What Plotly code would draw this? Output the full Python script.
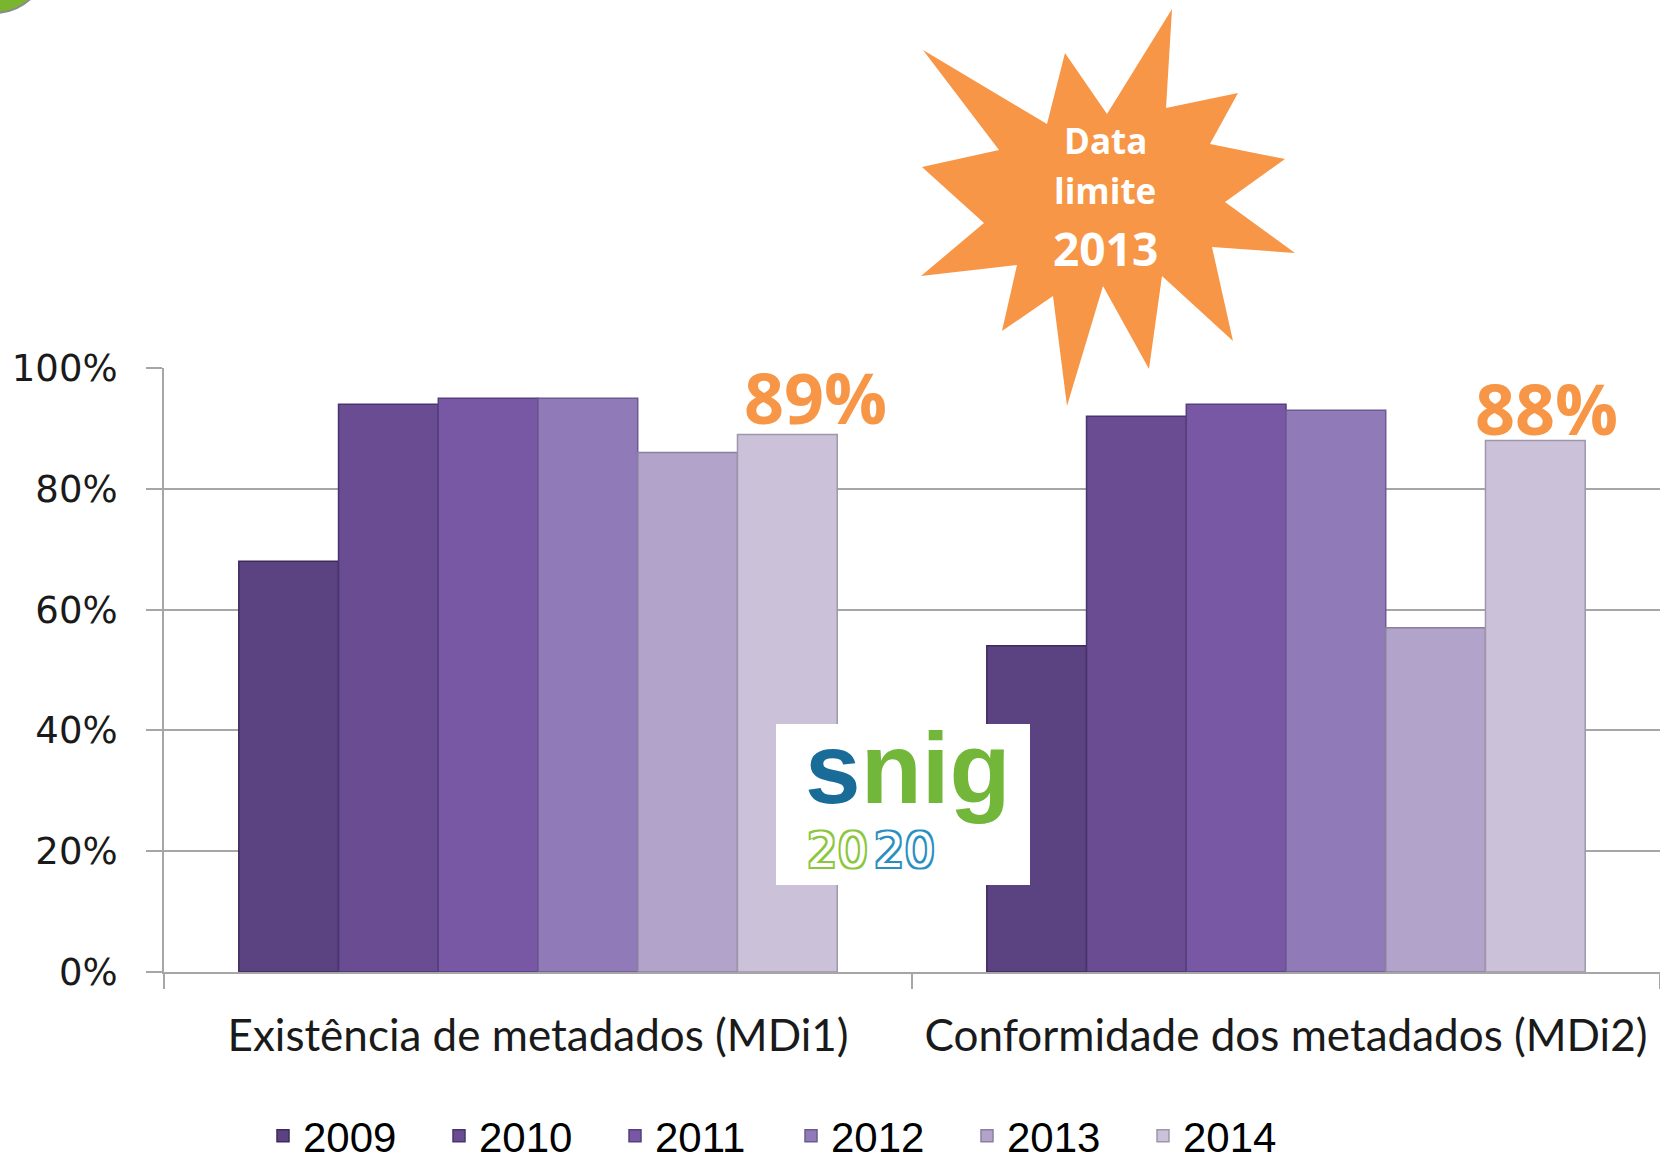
import plotly.graph_objects as go

categories = ["Existência de metadados (MDi1)", "Conformidade dos metadados (MDi2)"]
years = ["2009", "2010", "2011", "2012", "2013", "2014"]
values_2009 = [0.68, 0.54]
values_2010 = [0.94, 0.92]
values_2011 = [0.95, 0.94]
values_2012 = [0.95, 0.93]
values_2013 = [0.86, 0.57]
values_2014 = [0.89, 0.88]
series = [values_2009, values_2010, values_2011, values_2012, values_2013, values_2014]
colors = ["#5b4280", "#694c92", "#7857a4", "#917ab8", "#b1a3c9", "#cbc2da"]
edge_colors = ["#3f2a5c", "#4a3470", "#57407e", "#6d5a8f", "#8a7fa0", "#9e96aa"]
highlight_labels = ["89%", "88%"]

W, H = 1660, 1164
L, R, T, B = 164, 0, 368, 192
PW, PH = W - L - R, H - T - B


def px(x):
    return (x - L) / PW


def py(y):
    return (H - B - y) / PH


fig = go.Figure()
for yr, vals, c, ec in zip(years, series, colors, edge_colors):
    fig.add_trace(go.Bar(
        name=yr, x=categories, y=vals,
        marker=dict(color=c, line=dict(color=ec, width=1.5)),
    ))

orange = "#F79646"

# starburst decoration
star_pts = [(1172, 9), (1166, 108), (1238, 93), (1210, 144), (1285, 159), (1225, 202),
            (1295, 253), (1212, 247), (1233, 341), (1162, 276), (1149, 369), (1103, 286),
            (1067, 406), (1053, 296), (1002, 331), (1017, 265), (921, 276), (984, 223),
            (922, 167), (999, 150), (923, 50), (1047, 124), (1065, 53), (1107, 114)]
path = "M " + " L ".join(f"{px(x):.5f},{py(y):.5f}" for x, y in star_pts) + " Z"

shapes = [
    dict(type="path", xref="paper", yref="paper", path=path,
         fillcolor=orange, line=dict(width=0), layer="above"),
    # logo box
    dict(type="rect", xref="paper", yref="paper", x0=px(776), x1=px(1030), y0=py(885), y1=py(724),
         fillcolor="white", line=dict(width=0), layer="above"),
    # green circle top-left corner
    dict(type="circle", xref="paper", yref="paper", x0=px(-60), x1=px(48), y0=py(13), y1=py(-95),
         fillcolor="#7ab530", line=dict(color="#8a8a8a", width=2), layer="above"),
]


def ann(x, y, text, font):
    return dict(x=px(x), y=py(y), text=text, showarrow=False, xref="paper", yref="paper",
                xanchor="center", yanchor="middle", font=font)


annotations = [
    ann(1105, 140, "Data", dict(family="Open Sans", size=35, color="white", weight=700)),
    ann(1105, 191, "limite", dict(family="Open Sans", size=35, color="white", weight=700)),
    ann(1105, 248, "2013", dict(family="Open Sans", size=46, color="white", weight=700)),
    ann(815, 397, highlight_labels[0], dict(family="Open Sans", size=70, color=orange, weight=700)),
    ann(1546, 408, highlight_labels[1], dict(family="Open Sans", size=70, color=orange, weight=700)),
    ann(908, 768, "<span style='color:#1a6c98'>s</span><span style='color:#72b73a'>nig</span>",
        dict(family="Liberation Sans", size=100, weight=700)),
    ann(837, 850, "20", dict(family="DejaVu Sans", size=48, color="white",
                             shadow="-2px -2px 0 #8cc63f, 2px -2px 0 #8cc63f, -2px 2px 0 #8cc63f, 2px 2px 0 #8cc63f")),
    ann(904, 850, "20", dict(family="DejaVu Sans", size=48, color="white",
                             shadow="-2px -2px 0 #2a8fc0, 2px -2px 0 #2a8fc0, -2px 2px 0 #2a8fc0, 2px 2px 0 #2a8fc0")),
]

grid = "#a6a6a6"
fig.update_layout(
    width=W, height=H,
    margin=dict(l=L, r=R, t=T, b=B, autoexpand=False),
    paper_bgcolor="white", plot_bgcolor="white",
    barmode="group", bargap=0.2, bargroupgap=0,
    shapes=shapes, annotations=annotations,
    legend=dict(orientation="h", x=px(263), xanchor="left", y=py(1136), yanchor="middle",
                entrywidth=131, entrywidthmode="pixels",
                font=dict(family="Liberation Sans", size=42, color="black"),
                bgcolor="rgba(0,0,0,0)"),
    xaxis=dict(showline=True, linecolor=grid, linewidth=2, ticks="outside", tickson="boundaries",
               ticklen=15, tickcolor=grid, tickwidth=2, showgrid=False,
               tickfont=dict(family="Lato", size=44, color="#1a1a1a"), ticklabelstandoff=24),
    yaxis=dict(range=[0, 1], dtick=0.2, tickformat=".0%", showline=True, linecolor=grid, linewidth=2,
               ticks="outside", ticklen=16, tickcolor=grid, tickwidth=2,
               showgrid=True, gridcolor=grid, gridwidth=2, zeroline=False,
               tickfont=dict(family="DejaVu Sans", size=37, color="#1a1a1a"), ticklabelstandoff=21),
)

fig.write_html("out.html", config={"displayModeBar": False},
               post_script="document.body.style.margin='0';document.body.style.overflow='hidden';")
